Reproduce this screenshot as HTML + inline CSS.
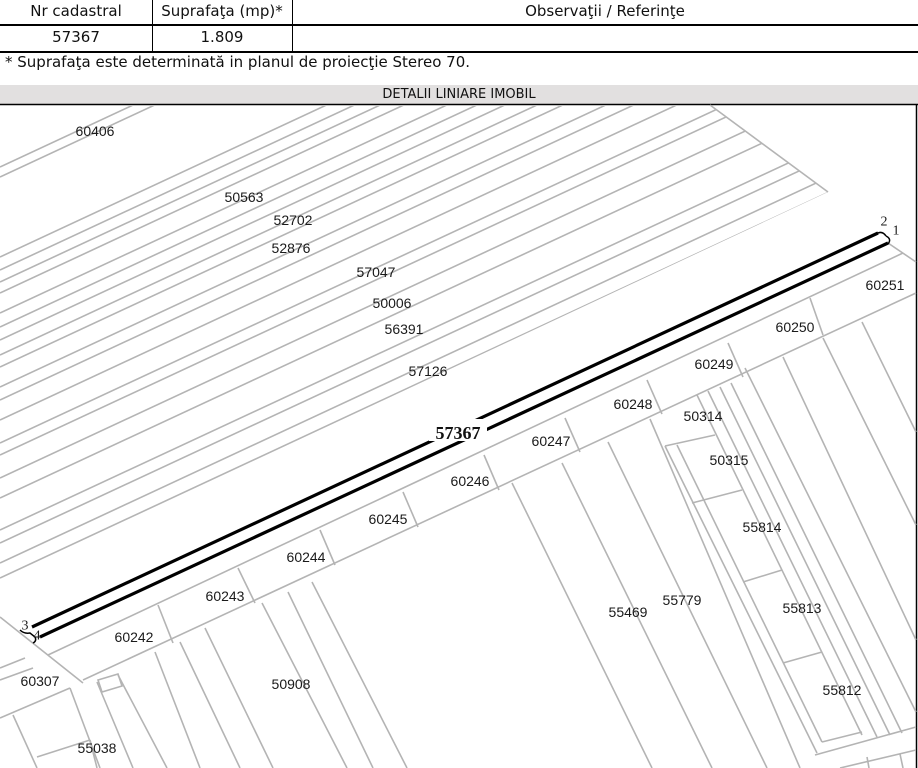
<!DOCTYPE html>
<html><head><meta charset="utf-8"><style>
html,body{margin:0;padding:0;background:#fff;}
body{width:918px;height:768px;overflow:hidden;position:relative;font-family:"DejaVu Sans","Liberation Sans",sans-serif;}
.c{position:absolute;font-size:15px;color:#111;text-align:center;}
</style></head><body>
<div class="c" style="left:0;top:2px;width:152px;">Nr cadastral</div>
<div class="c" style="left:152px;top:2px;width:140px;">Suprafaţa (mp)*</div>
<div class="c" style="left:292px;top:2px;width:626px;">Observaţii / Referinţe</div>
<div class="c" style="left:0;top:28px;width:152px;">57367</div>
<div class="c" style="left:152px;top:28px;width:140px;">1.809</div>
<div style="position:absolute;left:0;top:24px;width:918px;height:2px;background:#000"></div>
<div style="position:absolute;left:0;top:51px;width:918px;height:2px;background:#000"></div>
<div style="position:absolute;left:152px;top:0;width:1px;height:52px;background:#000"></div>
<div style="position:absolute;left:292px;top:0;width:1px;height:52px;background:#000"></div>
<div class="c" style="left:5px;top:53px;text-align:left;">* Suprafaţa este determinată in planul de proiecţie Stereo 70.</div>
<div style="position:absolute;left:0;top:85px;width:918px;height:19px;background:#e2e0e0;font-size:13px;text-align:center;line-height:19px;color:#111">DETALII LINIARE IMOBIL</div>
<svg style="position:absolute;left:0;top:0" width="918" height="768" viewBox="0 0 918 768">
<defs><clipPath id="cp"><polygon points="0,106 710,106 828,192 0,580"/></clipPath></defs>
<line x1="0" y1="104.5" x2="918" y2="104.5" stroke="#000" stroke-width="1.5"/>
<line x1="916.5" y1="104" x2="916.5" y2="768" stroke="#000" stroke-width="1.5"/>
<g stroke="#b4b4b4" stroke-width="1.6" fill="none">
<g clip-path="url(#cp)">
<line x1="0" y1="167" x2="900" y2="-252"/><line x1="0" y1="177" x2="900" y2="-242"/>
<line x1="0" y1="257" x2="900" y2="-162"/><line x1="0" y1="270" x2="900" y2="-149"/>
<line x1="0" y1="282" x2="900" y2="-137"/><line x1="0" y1="293" x2="900" y2="-126"/>
<line x1="0" y1="313" x2="900" y2="-106"/><line x1="0" y1="327" x2="900" y2="-92"/>
<line x1="0" y1="340" x2="900" y2="-79"/><line x1="0" y1="355" x2="900" y2="-64"/>
<line x1="0" y1="367" x2="900" y2="-52"/><line x1="0" y1="387" x2="900" y2="-32"/>
<line x1="0" y1="400" x2="900" y2="-19"/><line x1="0" y1="420" x2="900" y2="1"/>
<line x1="0" y1="443" x2="900" y2="24"/><line x1="0" y1="455" x2="900" y2="36"/>
<line x1="0" y1="478" x2="900" y2="59"/><line x1="0" y1="498" x2="900" y2="79"/>
<line x1="0" y1="530" x2="900" y2="111"/><line x1="0" y1="543" x2="900" y2="124"/>
<line x1="0" y1="563" x2="900" y2="144"/><line x1="0" y1="578" x2="900" y2="159"/>
</g>
<line x1="710" y1="105" x2="828" y2="192"/>
<line x1="48" y1="655" x2="903" y2="253"/>
<line x1="83" y1="680" x2="916" y2="293"/>
<line x1="888" y1="243" x2="916" y2="262"/>
<line x1="0" y1="617" x2="83" y2="683"/>
<line x1="158" y1="605" x2="173" y2="643"/><line x1="238" y1="568" x2="255" y2="603"/>
<line x1="320" y1="530" x2="335" y2="565"/><line x1="403" y1="492" x2="418" y2="527"/>
<line x1="484" y1="455" x2="499" y2="490"/><line x1="565" y1="418" x2="580" y2="452"/>
<line x1="647" y1="380" x2="662" y2="414"/><line x1="728" y1="343" x2="743" y2="377"/>
<line x1="810" y1="298" x2="823" y2="335"/>
<line x1="0" y1="668" x2="25" y2="658"/><line x1="0" y1="680" x2="33" y2="668"/>
<line x1="0" y1="718" x2="70" y2="688"/><line x1="70" y1="688" x2="100" y2="768"/>
<line x1="13" y1="715" x2="37" y2="768"/><line x1="37" y1="757" x2="90" y2="740"/>
<line x1="90" y1="740" x2="97" y2="768"/>
<line x1="97" y1="682" x2="133" y2="768"/><line x1="118" y1="675" x2="167" y2="768"/>
<polygon points="98,680 118,674 122,686 102,692"/>
<line x1="155" y1="652" x2="200" y2="768"/><line x1="180" y1="642" x2="240" y2="768"/>
<line x1="205" y1="628" x2="273" y2="768"/><line x1="262" y1="603" x2="347" y2="768"/>
<line x1="288" y1="592" x2="373" y2="768"/><line x1="312" y1="582" x2="407" y2="768"/>
<line x1="512" y1="483" x2="652" y2="768"/><line x1="562" y1="463" x2="712" y2="768"/>
<line x1="608" y1="442" x2="767" y2="768"/>
<line x1="650" y1="419" x2="800" y2="768"/>
<line x1="665" y1="446" x2="817" y2="753"/><line x1="677" y1="445" x2="822" y2="742"/>
<line x1="665" y1="446" x2="715" y2="435"/>
<line x1="697" y1="395" x2="862" y2="735"/><line x1="708" y1="391" x2="877" y2="737"/>
<line x1="720" y1="387" x2="890" y2="735"/><line x1="731" y1="383" x2="902" y2="733"/>
<line x1="692" y1="503" x2="742" y2="490"/><line x1="743" y1="582" x2="782" y2="570"/>
<line x1="783" y1="663" x2="822" y2="652"/><line x1="822" y1="742" x2="862" y2="732"/>
<line x1="815" y1="755" x2="916" y2="727"/><line x1="840" y1="768" x2="916" y2="750"/>
<line x1="867" y1="757" x2="869" y2="768"/><line x1="900" y1="754" x2="903" y2="768"/>
<line x1="745" y1="368" x2="916" y2="712"/>
<line x1="783" y1="357" x2="916" y2="640"/>
<line x1="823" y1="338" x2="916" y2="525"/>
<line x1="862" y1="322" x2="916" y2="432"/>
</g>
<g stroke="#000" stroke-width="3.2" fill="none">
<line x1="32" y1="627" x2="878" y2="233"/>
<line x1="40" y1="637" x2="888" y2="243"/>
<path d="M876,234 q6,-4 10,2" stroke-width="1.5"/>
<path d="M886,236 q6,3 2,8" stroke-width="1.5"/>
<path d="M20,630 q4,4 10,3 l5,4 q2,4 -2,6" stroke-width="1.5"/>
</g>
<rect x="429" y="419" width="58" height="22" fill="#fff"/>
<text x="458" y="439" font-family="Liberation Serif,serif" font-weight="bold" font-size="18" text-anchor="middle" fill="#111">57367</text>
<g font-family="Liberation Sans,sans-serif" font-size="14" fill="#1a1a1a" text-anchor="middle" dominant-baseline="central">
<text x="884" y="222" font-family="Liberation Serif,serif">2</text>
<text x="896" y="231" font-family="Liberation Serif,serif">1</text>
<text x="25" y="626" font-family="Liberation Serif,serif">3</text>
<text x="37" y="636" font-family="Liberation Serif,serif">4</text>
<text x="95" y="131">60406</text><text x="244" y="197">50563</text>
<text x="293" y="220">52702</text><text x="291" y="248">52876</text>
<text x="376" y="272">57047</text><text x="392" y="303">50006</text>
<text x="404" y="329">56391</text><text x="428" y="371">57126</text>
<text x="885" y="285">60251</text><text x="795" y="327">60250</text>
<text x="714" y="364">60249</text><text x="633" y="404">60248</text>
<text x="703" y="416">50314</text><text x="551" y="441">60247</text>
<text x="729" y="460">50315</text><text x="470" y="481">60246</text>
<text x="388" y="519">60245</text><text x="762" y="527">55814</text>
<text x="306" y="557">60244</text><text x="225" y="596">60243</text>
<text x="682" y="600">55779</text><text x="628" y="612">55469</text>
<text x="802" y="608">55813</text><text x="134" y="637">60242</text>
<text x="40" y="681">60307</text><text x="291" y="684">50908</text>
<text x="842" y="690">55812</text><text x="97" y="748">55038</text>
</g>
</svg>
</body></html>
